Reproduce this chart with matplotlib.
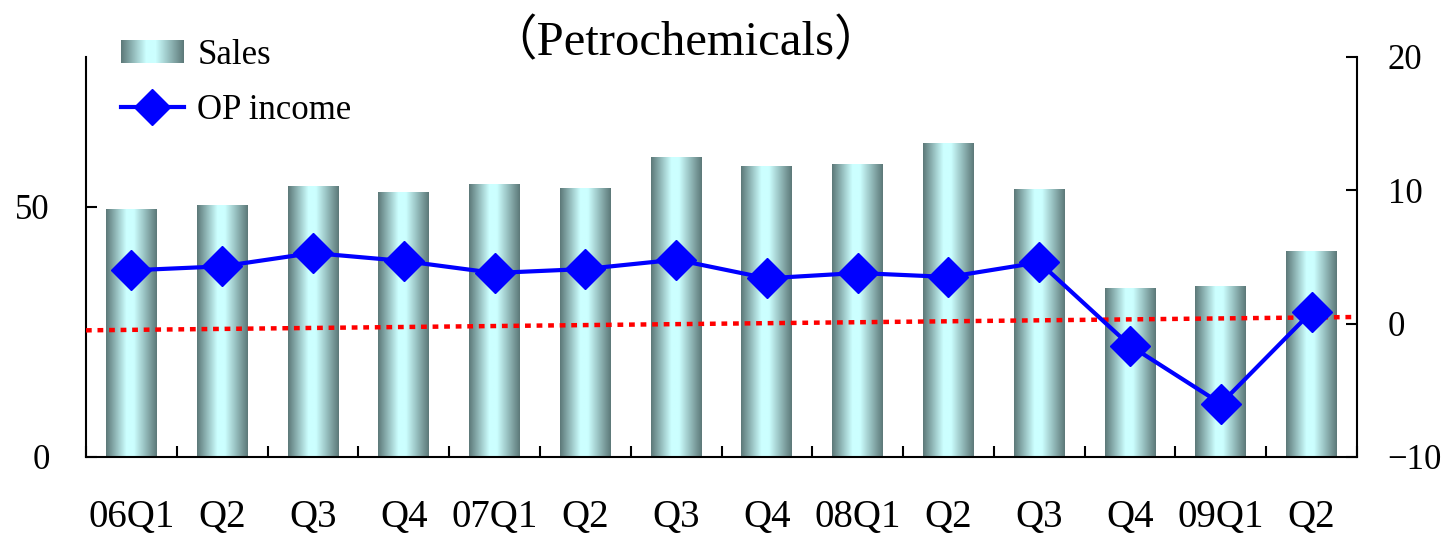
import numpy as np
import matplotlib
matplotlib.use('Agg')
import matplotlib.pyplot as plt
from matplotlib.colors import LinearSegmentedColormap
from matplotlib.legend_handler import HandlerBase
from matplotlib.image import BboxImage
from matplotlib.transforms import Bbox, TransformedBbox
from matplotlib.patches import Rectangle
import matplotlib.lines as mlines

plt.rcParams['font.family'] = ['Liberation Serif', 'Noto Sans CJK JP']

quarters = ['06Q1', 'Q2', 'Q3', 'Q4', '07Q1', 'Q2', 'Q3',
            'Q4', '08Q1', 'Q2', 'Q3', 'Q4', '09Q1', 'Q2']
sales = [49.4, 50.2, 54.0, 52.8, 54.4, 53.6, 59.8,
         58.0, 58.4, 62.6, 53.4, 33.6, 34.0, 41.0]
op_income = [4.0, 4.3, 5.3, 4.7, 3.8, 4.1, 4.8,
             3.4, 3.8, 3.5, 4.6, -1.65, -6.0, 0.9]
# dotted reference line, value at the left and right edge
ref_line = [-0.5, 0.5]

# cylinder-like shading across each bar
shade = LinearSegmentedColormap.from_list(
    'shade', [(0.0, '#5c7878'), (0.4, '#ccffff'), (0.55, '#ccffff'), (1.0, '#5c7878')])
grad = np.linspace(0, 1, 256).reshape(1, -1)


class GradientHandler(HandlerBase):
    def create_artists(self, legend, orig_handle, xdescent, ydescent,
                       width, height, fontsize, trans):
        bb = TransformedBbox(Bbox.from_bounds(-xdescent, -ydescent, width, height), trans)
        img = BboxImage(bb, cmap=shade, interpolation='bilinear')
        img.set_data(grad)
        return [img]


fig = plt.figure(figsize=(14.42, 5.34), dpi=100)
ax = fig.add_axes([0.0596, 0.1442, 0.8815, 0.7491])
x = np.arange(len(quarters))
w = 0.56

for xi, h in zip(x, sales):
    ax.imshow(grad, cmap=shade, aspect='auto', interpolation='bilinear',
              extent=[xi - w / 2, xi + w / 2, 0, h], zorder=2)

ax.set_xlim(-0.5, len(quarters) - 0.5)
ax.set_ylim(0, 80)
ax.set_yticks([0, 50])
ax.tick_params(axis='y', direction='in', length=8, width=1.5, labelsize=25, pad=26)
ax.set_xticks(x)
ax.set_xticklabels(quarters)
ax.set_xticks(np.arange(len(quarters) + 1) - 0.5, minor=True)
ax.tick_params(axis='x', which='major', length=0, labelsize=28, pad=30)
ax.tick_params(axis='x', which='minor', direction='in', length=8, width=1.5)
ax.spines['top'].set_visible(False)
ax.spines['right'].set_visible(False)
for s in ('left', 'bottom'):
    ax.spines[s].set_linewidth(1.5)

ax2 = ax.twinx()
ax2.set_ylim(-10, 20)
ax2.set_yticks([-10, 0, 10, 20])
ax2.tick_params(axis='y', direction='in', length=8, width=1.5, labelsize=25, pad=22)
ax2.spines['top'].set_visible(False)
ax2.spines['left'].set_visible(False)
ax2.spines['bottom'].set_visible(False)
ax2.spines['right'].set_linewidth(1.5)

ax2.plot([x[0] - 0.5, x[-1] + 0.5], ref_line, color='#ff0000', linewidth=3.2,
         linestyle=(0, (1.3, 1.3)), dash_capstyle='butt', zorder=3)
ax2.plot(x, op_income, color='#0000ff', linewidth=3, marker='D', markersize=20,
         zorder=4)

# fixed y so the title sits close to the top of the plot
ax.set_title('（Petrochemicals）', fontsize=35, y=1.0, pad=1, x=0.472)

sales_h = Rectangle((0, 0), 1, 1)
op_h = mlines.Line2D([], [], color='#0000ff', linewidth=3, marker='D', markersize=18)
ax2.legend([sales_h, op_h], ['Sales', 'OP income'], loc='upper left',
           bbox_to_anchor=(0.003, 1.123), frameon=False, fontsize=25,
           handlelength=1.8, handleheight=0.6, handletextpad=0.4, labelspacing=0.62,
           handler_map={Rectangle: GradientHandler()})

fig.savefig('out.png', dpi=100)
